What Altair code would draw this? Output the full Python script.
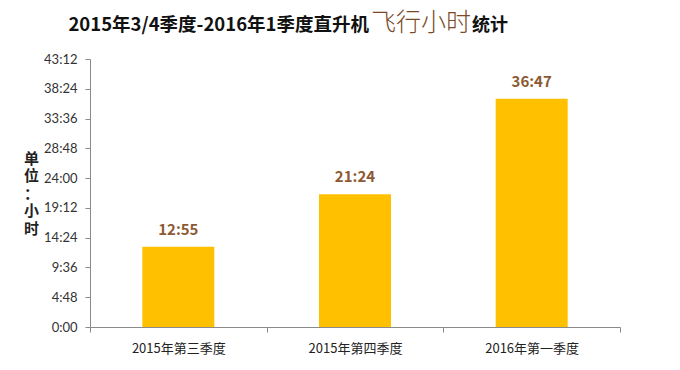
import altair as alt
import pandas as pd

categories = ["2015年第三季度", "2015年第四季度", "2016年第一季度"]
hours = [12 + 55 / 60, 21 + 24 / 60, 36 + 47 / 60]
value_labels = ["12:55", "21:24", "36:47"]
y_ticks = [0, 4.8, 9.6, 14.4, 19.2, 24.0, 28.8, 33.6, 38.4, 43.2]

title_main = "2015年3/4季度-2016年1季度直升机"
title_mid = "飞行小时"
title_end = "统计"

df = pd.DataFrame({"季度": categories, "小时": hours, "标签": value_labels})

CJK = "Noto Sans CJK SC"

label_expr = (
    "floor(datum.value + 1e-6) + ':' + "
    "(round((datum.value - floor(datum.value + 1e-6)) * 60) < 10 ? '0' : '') + "
    "round((datum.value - floor(datum.value + 1e-6)) * 60)"
)

x_enc = alt.X(
    "季度:N",
    sort=categories,
    scale=alt.Scale(paddingInner=0, paddingOuter=0),
    axis=alt.Axis(
        title=None,
        labelAngle=0,
        labelFont=CJK,
        labelFontSize=13,
        labelColor="#222222",
        labelPadding=10,
        domainColor="#8a8a8a",
        tickColor="#8a8a8a",
        tickSize=5,
        tickBand="extent",
        grid=False,
    ),
)

y_enc = alt.Y(
    "小时:Q",
    scale=alt.Scale(domain=[0, 43.2], nice=False, zero=True),
    axis=alt.Axis(
        values=y_ticks,
        tickCount=20,
        labelExpr=label_expr,
        labelOverlap=False,
        labelBound=False,
        labelFlush=False,
        labelFont="Lato",
        labelFontSize=13,
        labelColor="#333333",
        labelPadding=8,
        domainColor="#8a8a8a",
        tickColor="#8a8a8a",
        tickSize=5,
        grid=False,
        title=["单", "位", "：", "小", "时"],
        titleAngle=0,
        titleFont=CJK,
        titleFontSize=15,
        titleFontWeight="bold",
        titleColor="#222222",
        titleLineHeight=17.5,
        titleAlign="center",
        titleBaseline="top",
        titleX=-59,
        titleY=92,
    ),
)

bars = alt.Chart(df).mark_bar(color="#FFC000", width=72).encode(x=x_enc, y=y_enc)

labels = alt.Chart(df).mark_text(
    baseline="bottom", dy=-9, font=CJK, fontSize=15, fontWeight="bold", color="#8c5a32"
).encode(x=alt.X("季度:N", sort=categories), y="小时:Q", text="标签:N")

t1 = alt.Chart(pd.DataFrame({"t": [title_main]})).mark_text(
    align="right", baseline="alphabetic", font=CJK, fontSize=18.5, fontWeight="bold", color="#111111"
).encode(x=alt.value(279), y=alt.value(-28), text="t:N")

t2 = alt.Chart(pd.DataFrame({"t": [title_mid]})).mark_text(
    align="left", baseline="alphabetic", font=CJK, fontSize=25, fontWeight=300, color="#7a4a2a"
).encode(x=alt.value(281), y=alt.value(-28), text="t:N")

t3 = alt.Chart(pd.DataFrame({"t": [title_end]})).mark_text(
    align="left", baseline="alphabetic", font=CJK, fontSize=18, fontWeight="bold", color="#111111"
).encode(x=alt.value(382), y=alt.value(-28), text="t:N")

chart = (
    alt.layer(bars, labels, t1, t2, t3)
    .properties(
        width=530,
        height=268,
        autosize=alt.AutoSizeParams(type="none"),
        padding={"left": 82, "top": 51, "right": 50, "bottom": 35},
        background="white",
    )
    .configure_view(stroke=None)
)

chart.save("out.html", embed_options={"renderer": "svg", "actions": False})
